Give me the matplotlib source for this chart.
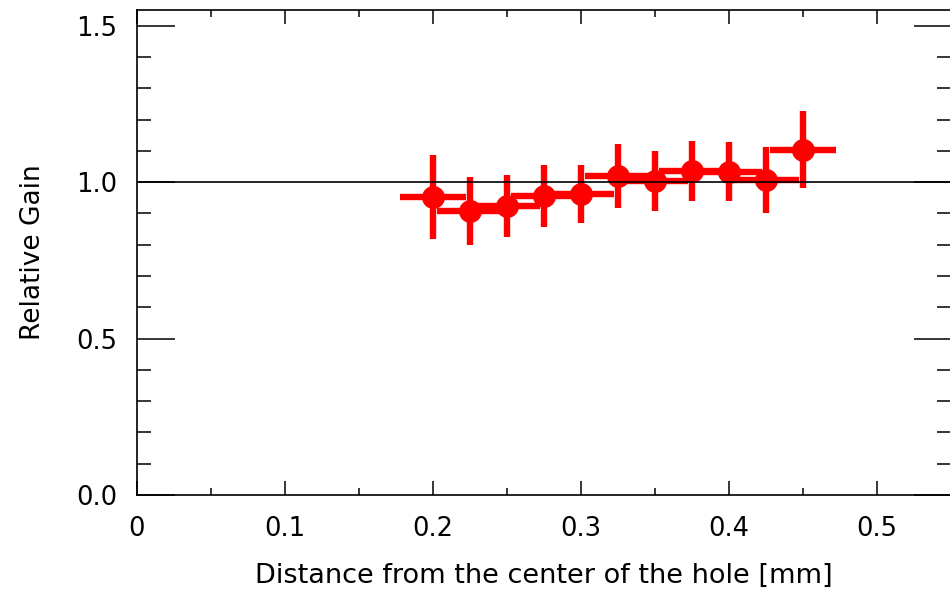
import matplotlib
matplotlib.use("Agg")
import matplotlib.pyplot as plt
from matplotlib.ticker import MultipleLocator, FuncFormatter

# Relative gain versus distance from the hole centre
distance = [0.200, 0.225, 0.250, 0.275, 0.300, 0.325, 0.350, 0.375, 0.400, 0.425, 0.450]
gain = [0.952, 0.908, 0.923, 0.955, 0.962, 1.019, 1.004, 1.036, 1.033, 1.006, 1.104]
gain_err = [0.135, 0.108, 0.100, 0.100, 0.092, 0.103, 0.095, 0.095, 0.095, 0.105, 0.122]
distance_err = [0.022] * len(distance)

reference_level = 1.0

fig = plt.figure(figsize=(9.5, 5.89), dpi=100)
ax = fig.add_axes([137 / 950, 94 / 589, 814 / 950, 485 / 589])

ax.errorbar(distance, gain, xerr=distance_err, yerr=gain_err,
            fmt="o", color="#ff0000", ecolor="#ff0000", markersize=15.5,
            elinewidth=4.6, capsize=0, zorder=2)
ax.axhline(reference_level, color="black", linewidth=1.2, zorder=3)

ax.set_xlim(0, 0.55)
ax.set_ylim(0, 1.55)

ax.xaxis.set_major_locator(MultipleLocator(0.1))
ax.xaxis.set_minor_locator(MultipleLocator(0.05))
ax.yaxis.set_major_locator(MultipleLocator(0.5))
ax.yaxis.set_minor_locator(MultipleLocator(0.1))
ax.xaxis.set_major_formatter(FuncFormatter(lambda v, p: "0" if abs(v) < 1e-9 else f"{v:.1f}"))
ax.yaxis.set_major_formatter(FuncFormatter(lambda v, p: f"{v:.1f}"))

for s in ax.spines.values():
    s.set_linewidth(1.2)

ax.tick_params(axis="both", which="both", direction="in", top=True, right=True,
               width=1.1, labelsize=18.5, colors="black")
ax.tick_params(axis="y", which="major", length=27, pad=14)
ax.tick_params(axis="y", which="minor", length=10)
ax.tick_params(axis="x", which="major", length=10, pad=15)
ax.tick_params(axis="x", which="minor", length=5)

ax.set_xlabel("Distance from the center of the hole [mm]", fontsize=19.5, labelpad=15)
ax.set_ylabel("Relative Gain", fontsize=19, labelpad=22)

fig.savefig("out.png", dpi=100)
